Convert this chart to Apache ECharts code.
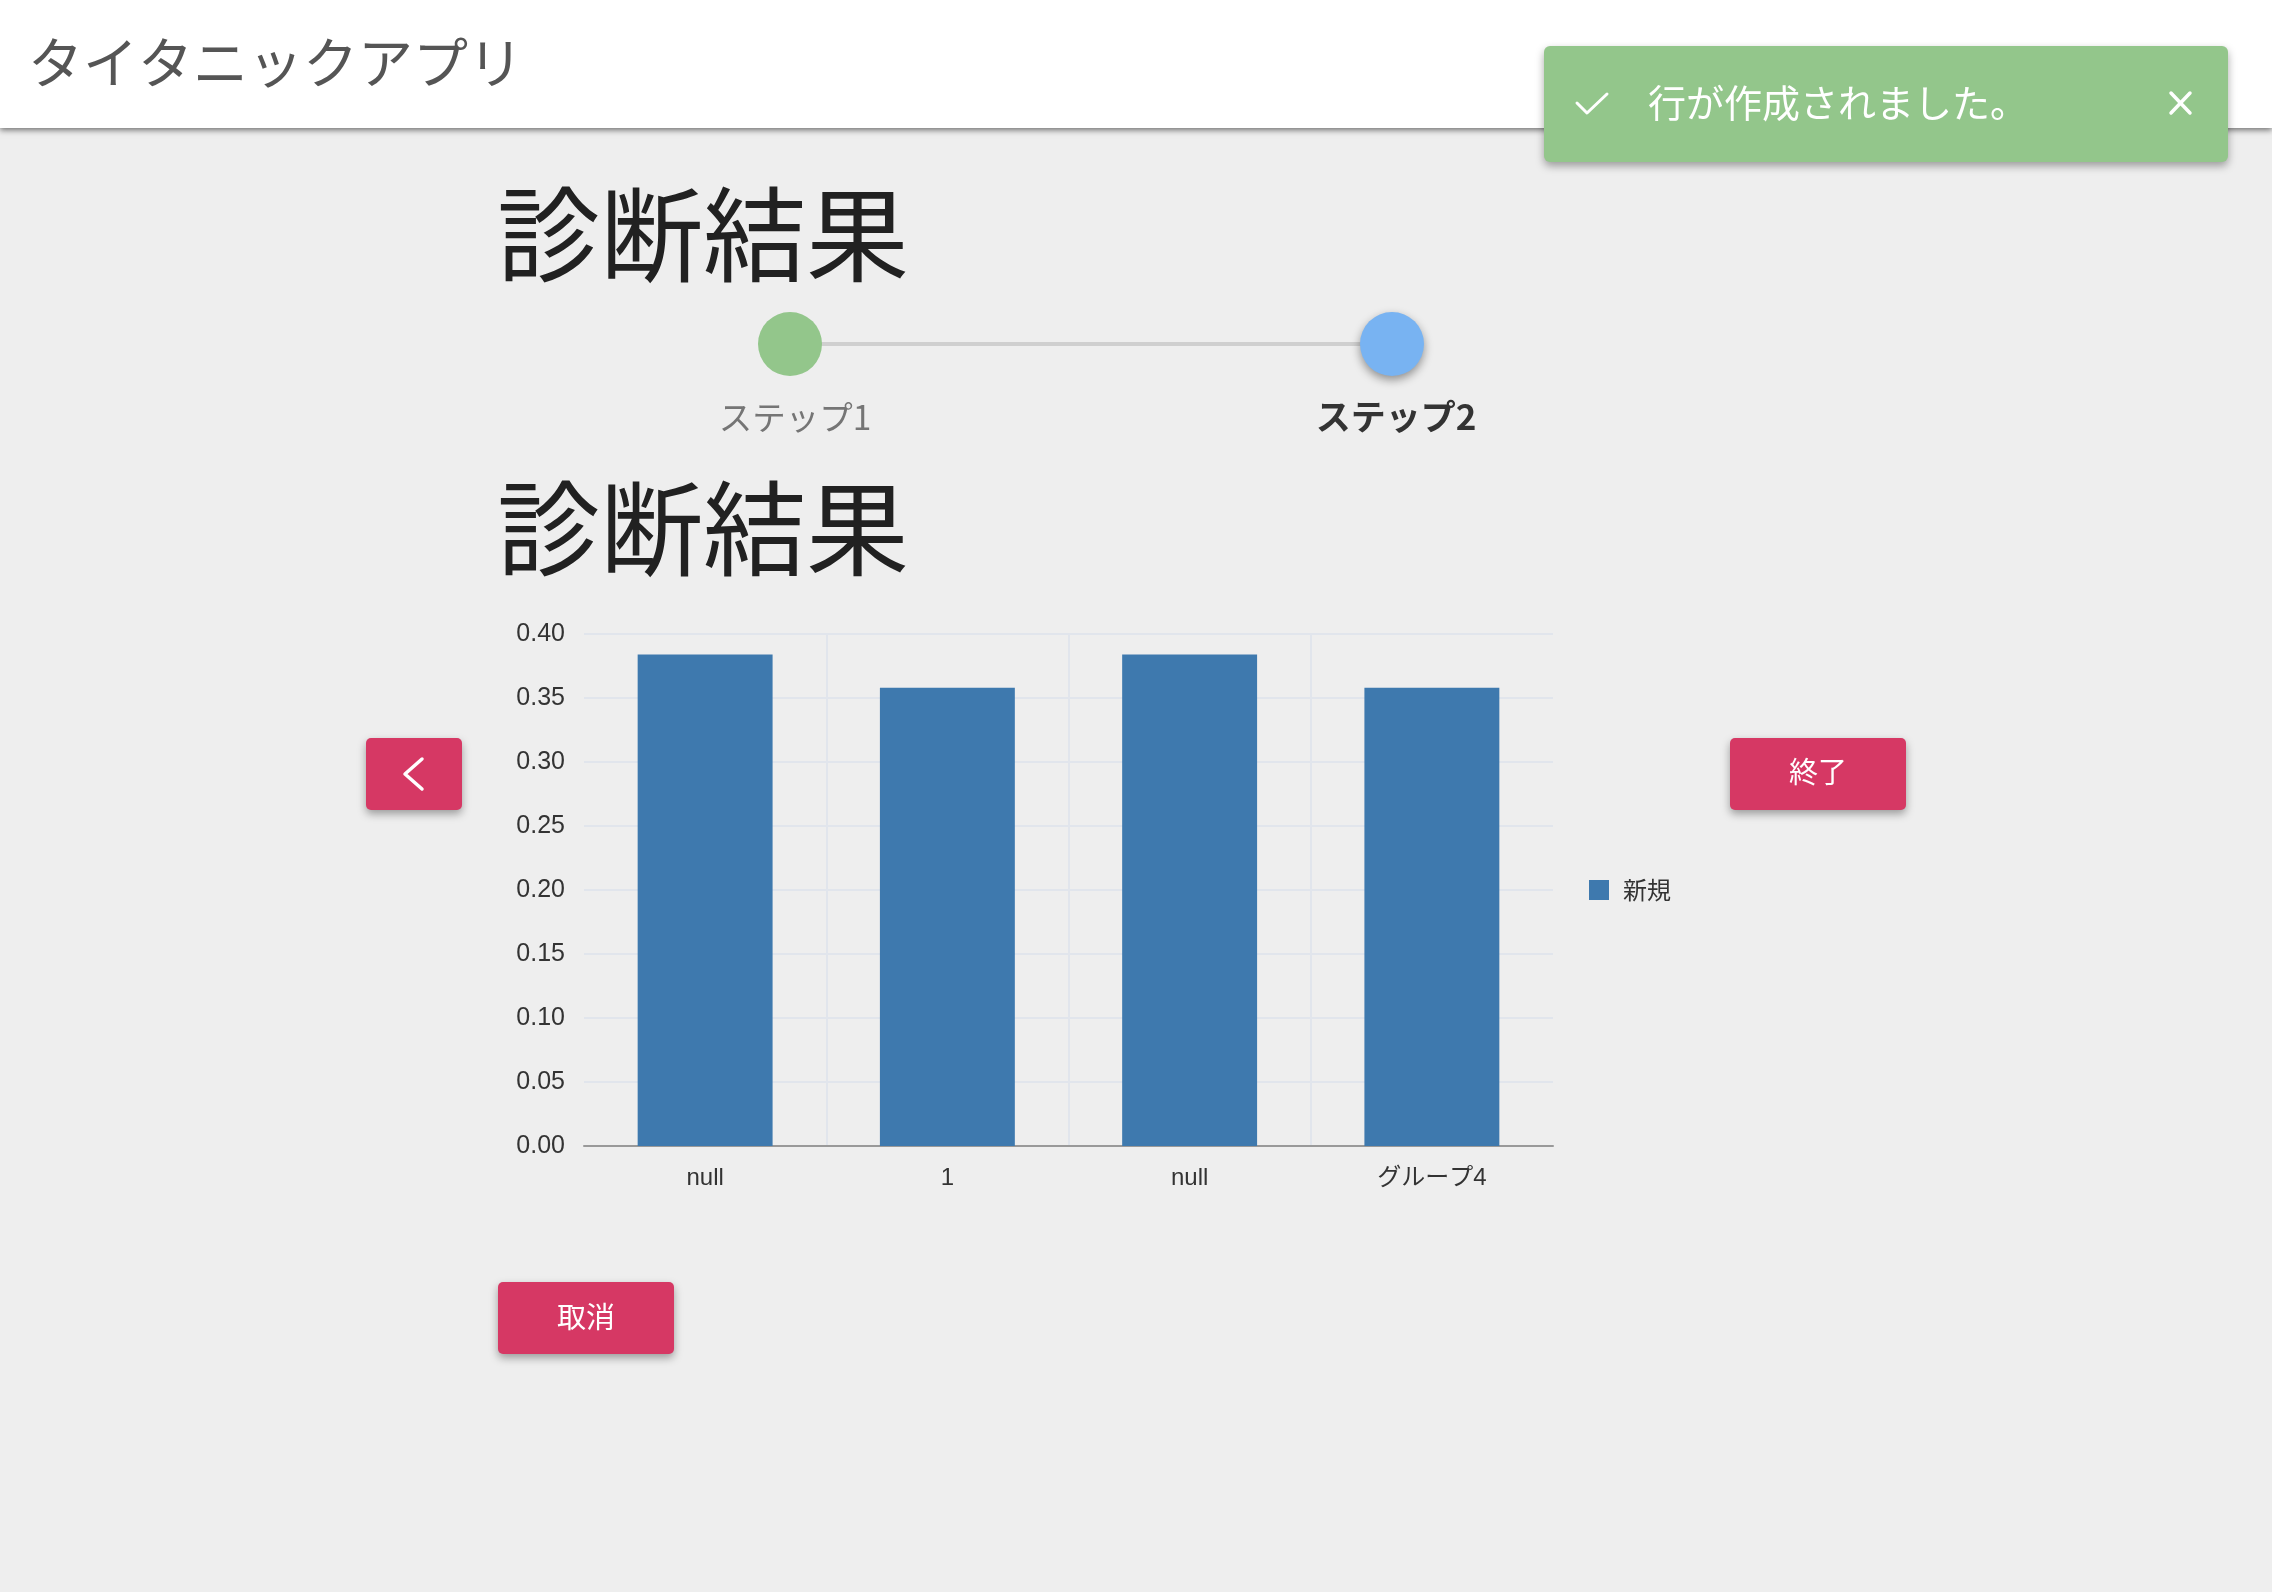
<!DOCTYPE html>
<html lang="ja">
<head>
<meta charset="utf-8">
<title>タイタニックアプリ</title>
<style>
html,body{margin:0;padding:0;background:#eeeeee;}
#chart{position:absolute;left:0;top:0;width:2272px;height:1592px;}
</style>
<script src="https://cdn.jsdelivr.net/npm/echarts@6/dist/echarts.min.js"></script>
</head>
<body>
<div id="chart"></div>
<script>
const categories = ['null', '1', 'null', 'グループ4'];
const seriesName = '新規';
const seriesValues = [0.384, 0.358, 0.384, 0.358];

const FONT = '"Liberation Sans","Noto Sans CJK JP",sans-serif';
const JP = '"Noto Sans CJK JP",sans-serif';
const PINK = '#d63864';
const GREEN = '#93c68b';
const BLUE = '#78b3f2';

function box(x, y, w, h, fill, r, shadowBlur, shadowY, shadowColor) {
  return { type: 'rect', shape: { x, y, width: w, height: h, r }, style: { fill, shadowBlur, shadowOffsetY: shadowY, shadowColor } };
}
function label(text, x, y, size, fill, align, weight) {
  return { type: 'text', style: { text, x, y, fill, font: (weight || 'normal') + ' ' + size + 'px ' + JP, textAlign: align || 'center', textVerticalAlign: 'middle' } };
}
function stroke(points, color, width) {
  return { type: 'polyline', shape: { points }, style: { stroke: color, lineWidth: width, fill: 'none', lineCap: 'round', lineJoin: 'round' } };
}
function button(x, y, w, h) {
  return box(x, y, w, h, PINK, 5, 8, 4, 'rgba(0,0,0,0.35)');
}

const chrome = [
  box(0, 0, 2272, 128, '#ffffff', 0, 6, 2, 'rgba(0,0,0,0.55)'),
  label('タイタニックアプリ', 28, 62, 55, '#555555', 'left'),
  box(1544, 46, 684, 116, GREEN, 6, 8, 4, 'rgba(0,0,0,0.35)'),
  stroke([[1577, 103], [1587, 113], [1607, 94]], '#ffffff', 3),
  label('行が作成されました。', 1648, 103, 38, '#ffffff', 'left'),
  stroke([[2171, 93], [2190, 113]], '#ffffff', 3.5),
  stroke([[2190, 93], [2171, 113]], '#ffffff', 3.5),

  label('診断結果', 497, 235, 103, '#212121', 'left'),
  { type: 'rect', shape: { x: 820, y: 342, width: 542, height: 4 }, style: { fill: '#cfcfcf' } },
  { type: 'circle', shape: { cx: 790, cy: 344, r: 32 }, style: { fill: GREEN } },
  { type: 'circle', shape: { cx: 1392, cy: 344, r: 32 }, style: { fill: BLUE, shadowBlur: 10, shadowOffsetY: 4, shadowColor: 'rgba(0,0,0,0.4)' } },
  label('ステップ1', 795, 417, 33.5, '#757575'),
  label('ステップ2', 1396, 417, 35, '#333333', 'center', 'bold'),
  label('診断結果', 497, 529, 103, '#212121', 'left'),

  button(366, 738, 96, 72),
  stroke([[422, 759], [405, 774], [422, 789]], '#ffffff', 3.5),
  button(1730, 738, 176, 72),
  label('終了', 1818, 772, 29, '#ffffff'),
  button(498, 1282, 176, 72),
  label('取消', 586, 1317, 29, '#ffffff')
];

const chart = echarts.init(document.getElementById('chart'), null, { width: 2272, height: 1592 });
chart.setOption({
  backgroundColor: '#eeeeee',
  animation: false,
  textStyle: { fontFamily: FONT },
  graphic: { elements: chrome },
  grid: { left: 584, right: 719, top: 634, bottom: 446, containLabel: false },
  legend: {
    data: [seriesName], orient: 'vertical', left: 1584, top: 873,
    icon: 'rect', itemWidth: 20, itemHeight: 20, itemGap: 10,
    textStyle: { fontSize: 24, color: '#333333', fontFamily: JP, padding: [0, 0, 0, 9] }
  },
  xAxis: {
    type: 'category', data: categories,
    axisTick: { show: false },
    axisLine: { lineStyle: { color: '#999999', width: 2 } },
    axisLabel: { fontSize: 24, color: '#333333', margin: 20, fontFamily: FONT, interval: 0 },
    splitLine: { show: true, showMinLine: false, showMaxLine: false, lineStyle: { color: '#e1e5ec', width: 2 } }
  },
  yAxis: {
    type: 'value', min: 0, max: 0.4, interval: 0.05,
    axisLine: { show: false }, axisTick: { show: false },
    axisLabel: { fontSize: 25, color: '#333333', margin: 19, padding: [0, 0, 3, 0], fontFamily: FONT, formatter: v => v.toFixed(2) },
    splitLine: { show: true, lineStyle: { color: '#e1e5ec', width: 2 } }
  },
  series: [{
    name: seriesName, type: 'bar', data: seriesValues,
    barCategoryGap: '44.3%',
    itemStyle: { color: '#3e79ae' }
  }]
});
</script>
</body>
</html>
